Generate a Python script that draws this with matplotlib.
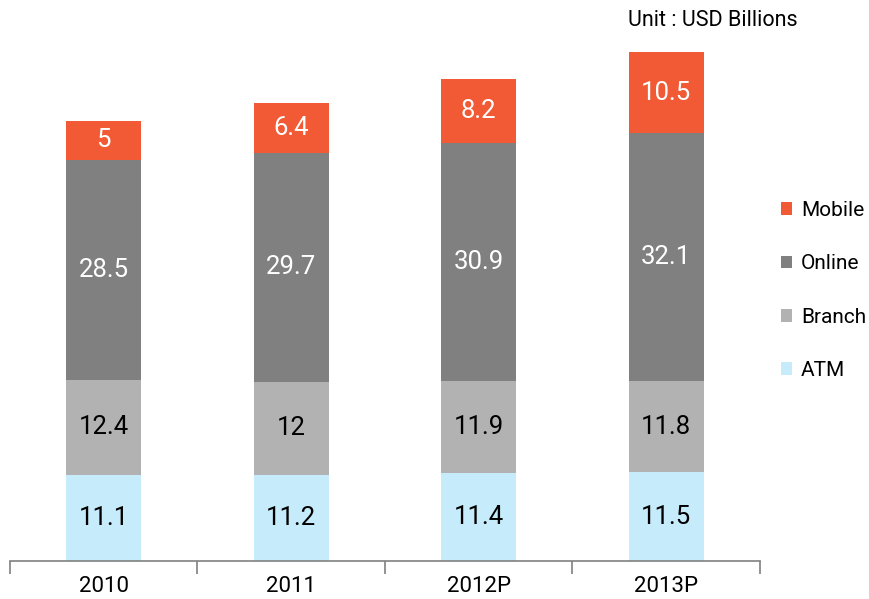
import matplotlib
matplotlib.use("Agg")
import matplotlib.pyplot as plt
from matplotlib.patches import Patch
import numpy as np

plt.rcParams['font.family'] = ['Roboto', 'DejaVu Sans']

years = ["2010", "2011", "2012P", "2013P"]
atm = [11.1, 11.2, 11.4, 11.5]
branch = [12.4, 12.0, 11.9, 11.8]
online = [28.5, 29.7, 30.9, 32.1]
mobile = [5.0, 6.4, 8.2, 10.5]
labels = {"ATM": ["11.1", "11.2", "11.4", "11.5"],
          "Branch": ["12.4", "12", "11.9", "11.8"],
          "Online": ["28.5", "29.7", "30.9", "32.1"],
          "Mobile": ["5", "6.4", "8.2", "10.5"]}

series = [("ATM", atm, "#C6ECFC", "#000000"),
          ("Branch", branch, "#B2B2B2", "#000000"),
          ("Online", online, "#808080", "#FFFFFF"),
          ("Mobile", mobile, "#F15A35", "#FFFFFF")]

fig = plt.figure(figsize=(8.7, 5.99), dpi=100)
ax = fig.add_axes([10/870, 1 - 561/599, 750/870, 561/599])

x = np.arange(len(years))
bottom = np.zeros(len(years))
for name, vals, color, tc in series:
    bars = ax.bar(x, vals, width=0.4, bottom=bottom, color=color, label=name)
    for i, b in enumerate(bars):
        ax.text(b.get_x() + b.get_width()/2, bottom[i] + vals[i]/2, labels[name][i],
                ha="center", va="center", color=tc, fontsize=18.5)
    bottom += np.array(vals)

ax.set_xlim(-0.5, len(years) - 0.5)
ax.set_ylim(0, 561/7.72)
for s in ["top", "right", "left"]:
    ax.spines[s].set_visible(False)
ax.spines["bottom"].set_color("#808080")
ax.spines["bottom"].set_linewidth(1.2)
ax.set_yticks([])
ax.set_xticks(np.arange(-0.5, len(years), 1.0))
ax.set_xticklabels([])
ax.tick_params(axis="x", length=9, color="#808080", width=1.2)
for i, y in enumerate(years):
    ax.text(i, -0.026, y, transform=ax.get_xaxis_transform(), ha="center", va="top", fontsize=16)

handles = [Patch(facecolor=c, label=n) for n, _, c, _ in series][::-1]
fig.legend(handles=handles, loc="upper left", bbox_to_anchor=(781/870, 1 - 201/599),
           frameon=False, fontsize=15, handlelength=0.55, handleheight=0.55,
           handletextpad=0.4, labelspacing=1.65, borderpad=0, borderaxespad=0)

fig.text(628/870, 1 - 21/599, "Unit : USD Billions", ha="left", va="center", fontsize=15.5)

fig.savefig("out.png", dpi=100)
